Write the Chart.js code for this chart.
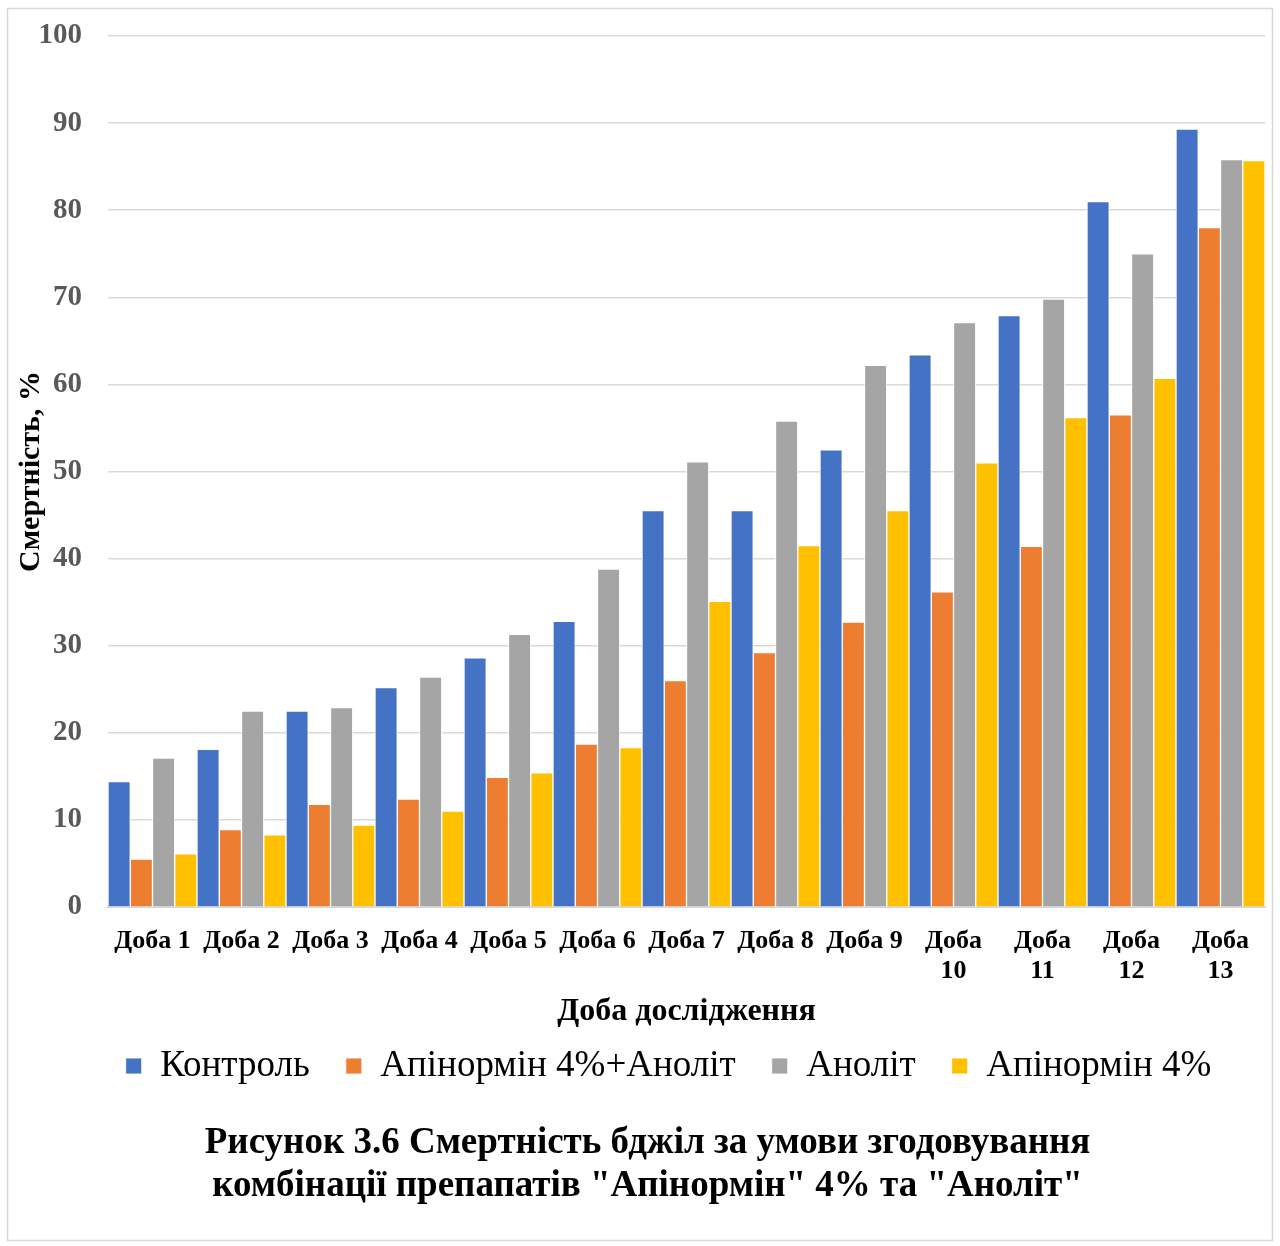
<!DOCTYPE html>
<html>
<head>
<meta charset="utf-8">
<script src="https://cdn.jsdelivr.net/npm/chart.js@4"></script>
<style>
  html, body { margin: 0; padding: 0; background: #ffffff; }
  #wrap { position: relative; width: 1280px; height: 1246px; }
</style>
</head>
<body>
<div id="wrap"><canvas id="c" width="1280" height="1246"></canvas></div>
<script>
const categories = [
  'Доба 1', 'Доба 2', 'Доба 3', 'Доба 4', 'Доба 5', 'Доба 6', 'Доба 7',
  'Доба 8', 'Доба 9', ['Доба', '10'], ['Доба', '11'], ['Доба', '12'], ['Доба', '13']
];
const seriesNames = ['Контроль', 'Апінормін 4%+Аноліт', 'Аноліт', 'Апінормін 4%'];
const control   = [14.4, 18.1, 22.5, 25.2, 28.6, 32.8, 45.5, 45.5, 52.5, 63.4, 67.9, 81.0, 89.3];
const apiAnolit = [5.5, 8.9, 11.8, 12.4, 14.9, 18.7, 26.0, 29.2, 32.7, 36.2, 41.4, 56.5, 78.0];
const anolit    = [17.1, 22.5, 22.9, 26.4, 31.3, 38.8, 51.1, 55.8, 62.2, 67.1, 69.8, 75.0, 85.8];
const apinormin = [6.1, 8.3, 9.4, 11.0, 15.4, 18.3, 35.1, 41.5, 45.5, 51.0, 56.2, 60.7, 85.7];
const yTicks = { min: 0, max: 100, step: 10 };
const yTitle = 'Смертність, %';
const xTitle = 'Доба дослідження';
const caption = ['Рисунок 3.6 Смертність бджіл за умови згодовування', 'комбінації препапатів "Апінормін" 4% та "Аноліт"'];
const colors = ['#4472C4', '#ED7D31', '#A5A5A5', '#FFC000'];

const FONT = "'Liberation Serif', 'Times New Roman', serif";

const frame = {
  id: 'frame',
  afterLayout(chart) {
    const lg = chart.legend;
    if (lg) { lg.left += 31; lg.right += 31; }
    const t = chart.titleBlock;
    if (t) { t.left += 10; t.right += 10; }
  },
  beforeDraw(chart) {
    const ctx = chart.ctx;
    ctx.save();
    ctx.fillStyle = '#ffffff';
    ctx.fillRect(0, 0, chart.width, chart.height);
    ctx.strokeStyle = '#d9d9d9';
    ctx.lineWidth = 1.5;
    ctx.strokeRect(7.5, 8.5, 1265, 1232);
    ctx.restore();
  }
};

const allSeries = [control, apiAnolit, anolit, apinormin];
new Chart(document.getElementById('c'), {
  type: 'bar',
  data: {
    labels: categories,
    datasets: allSeries.map((d, i) => ({
      label: seriesNames[i],
      data: d,
      backgroundColor: colors[i],
      borderColor: 'rgba(255,255,255,0.85)',
      borderWidth: 1,
      barPercentage: 1,
      categoryPercentage: 1
    }))
  },
  options: {
    responsive: false,
    devicePixelRatio: 1,
    animation: false,
    layout: { padding: { left: 10, right: 15, top: 36, bottom: 0 } },
    plugins: {
      legend: {
        position: 'bottom',
        labels: {
          boxWidth: 16,
          boxHeight: 16,
          padding: 36,
          color: '#000000',
          font: { family: FONT, size: 37 }
        }
      },
      title: {
        display: true,
        position: 'bottom',
        text: caption,
        color: '#000000',
        font: { family: FONT, size: 37, weight: 'bold', lineHeight: 1.162 },
        padding: { top: 27, bottom: 38.5 }
      },
      tooltip: { enabled: false }
    },
    scales: {
      x: {
        grid: { display: false, drawTicks: false },
        border: { display: true, color: '#d9d9d9', width: 2 },
        ticks: {
          color: '#000000',
          padding: 19,
          maxRotation: 0,
          autoSkip: false,
          font: { family: FONT, size: 26, weight: 'bold', lineHeight: 1.15 }
        },
        title: {
          display: true,
          text: xTitle,
          color: '#000000',
          font: { family: FONT, size: 32, weight: 'bold', lineHeight: 1.2 },
          padding: { top: 0, bottom: -19.7 }
        },
        afterFit(scale) { scale.height = 104.5; }
      },
      y: {
        min: yTicks.min,
        max: yTicks.max,
        grid: { color: '#d9d9d9', lineWidth: 1.5, drawTicks: false },
        border: { display: false },
        ticks: {
          stepSize: yTicks.step,
          color: '#595959',
          padding: 26,
          font: { family: FONT, size: 29, weight: 'bold', lineHeight: 0.6 }
        },
        title: {
          display: true,
          text: yTitle,
          color: '#000000',
          font: { family: FONT, size: 30, weight: 'bold', lineHeight: 1.2 },
          padding: { top: 3, bottom: 0 }
        },
        afterFit(scale) { scale.width = 98; }
      }
    }
  },
  plugins: [frame]
});
</script>
</body>
</html>
